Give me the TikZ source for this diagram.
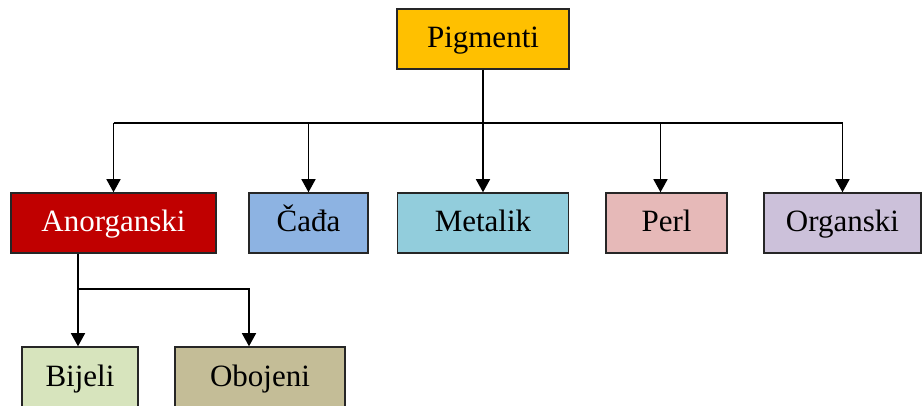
\documentclass[tikz,border=0pt]{standalone}
\usepackage{fontspec}
\setmainfont{Liberation Serif}
\usetikzlibrary{arrows.meta}
\definecolor{pigcol}{HTML}{FFC000}
\definecolor{anocol}{HTML}{C00000}
\definecolor{cadcol}{HTML}{8DB3E2}
\definecolor{metcol}{HTML}{92CDDC}
\definecolor{percol}{HTML}{E6B9B8}
\definecolor{orgcol}{HTML}{CCC1DA}
\definecolor{bijcol}{HTML}{D7E4BD}
\definecolor{obocol}{HTML}{C4BD97}
\begin{document}
\begin{tikzpicture}[x=1pt, y=-1pt,
  box/.style = {draw=black!85, line width=1.5pt, minimum height=60pt, inner sep=0pt,
                text height=22pt, text depth=4pt,
                font=\fontsize{31}{36}\selectfont},
  link/.style = {line width=1.4pt, -{Triangle[width=14pt,length=13pt]}}]
\useasboundingbox (0,0) rectangle (922,406);
\node [box, fill=pigcol, minimum width=172pt] (pig) at (483,39) {Pigmenti};
\node [box, fill=anocol, text=white, minimum width=205pt] (ano) at (113.5,223) {Anorganski};
\node [box, fill=cadcol, minimum width=119pt] (cad) at (308.5,223) {Čađa};
\node [box, fill=metcol, minimum width=171pt] (met) at (483,223) {Metalik};
\node [box, fill=percol, minimum width=121pt] (per) at (666.5,223) {Perl};
\node [box, fill=orgcol, minimum width=157pt] (org) at (842.5,223) {Organski};
\node [box, fill=bijcol, minimum width=116pt] (bij) at (80,377) {Bijeli};
\node [box, fill=obocol, minimum width=170pt] (obo) at (260,377) {Obojeni};
\coordinate (bus) at (0,123);
\coordinate (sub) at (0,289);
\draw [line width=1.4pt] (ano.north |- bus) -- (org.north |- bus);
\draw [link] (pig.south) -- (met.north);
\draw [link] (ano.north |- bus) -- (ano.north);
\draw [link] (cad.north |- bus) -- (cad.north);
\draw [link] ([xshift=-6pt]per.north |- bus) -- ([xshift=-6pt]per.north);
\draw [link] (org.north |- bus) -- (org.north);
\draw [link] ([xshift=-2pt]bij.north |- ano.south) -- ([xshift=-2pt]bij.north);
\draw [link] ([xshift=-2pt]bij.north |- sub) -| ([xshift=-11pt]obo.north);
\end{tikzpicture}
\end{document}
